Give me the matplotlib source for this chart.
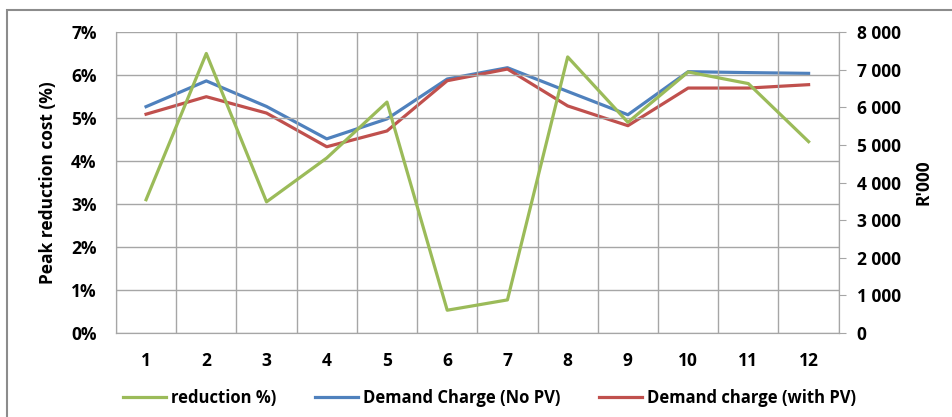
import matplotlib.pyplot as plt
from matplotlib.patches import Rectangle
from matplotlib.ticker import FuncFormatter

months = [1, 2, 3, 4, 5, 6, 7, 8, 9, 10, 11, 12]
reduction_pct = [3.1, 6.5, 3.05, 4.07, 5.37, 0.53, 0.77, 6.42, 4.9, 6.07, 5.8, 4.45]
demand_no_pv = [6015, 6700, 6020, 5160, 5690, 6750, 7050, 6420, 5800, 6945, 6920, 6900]
demand_with_pv = [5815, 6280, 5845, 4950, 5370, 6705, 7015, 6035, 5510, 6510, 6510, 6600]

green = '#9BBB59'
blue = '#4F81BD'
red = '#C0504D'
gridc = '#a6a6a6'

plt.rcParams['font.family'] = ['Open Sans', 'DejaVu Sans']
plt.rcParams['font.weight'] = 'bold'

fig = plt.figure(figsize=(9.52, 4.17), dpi=100)
ax = fig.add_axes([0.1218, 0.2014, 0.7592, 0.7219])
ax2 = ax.twinx()

# outer chart border
fig.patches.append(Rectangle((7 / 952, -0.05), 1.1, 1 - 10 / 417 + 0.05,
                             transform=fig.transFigure, fill=False,
                             edgecolor='#8c8c8c', linewidth=1.5))

l1, = ax.plot(months, reduction_pct, color=green, lw=2.3, label='reduction %)')
l2, = ax2.plot(months, demand_no_pv, color=blue, lw=2.3, label='Demand Charge (No PV)')
l3, = ax2.plot(months, demand_with_pv, color=red, lw=2.3, label='Demand charge (with PV)')
ax.set_zorder(ax2.get_zorder() + 1)
ax.patch.set_visible(False)

ax.set_xlim(0.5, 12.5)
ax.set_ylim(0, 7)
ax2.set_ylim(0, 8000)
ax.set_xticks(months)
ax.set_xticks([m + 0.5 for m in range(13)], minor=True)
ax.set_yticks(range(8))
ax.yaxis.set_major_formatter(FuncFormatter(lambda v, p: f'{int(v)}%'))
ax2.set_yticks(range(0, 8001, 1000))
ax2.yaxis.set_major_formatter(FuncFormatter(lambda v, p: f'{int(v):,}'.replace(',', ' ')))

ax.grid(True, which='minor', axis='x', color=gridc, lw=1)
ax.grid(True, which='major', axis='y', color=gridc, lw=1)
ax.tick_params(axis='x', which='both', length=0, pad=14, labelsize=12.5)
ax.tick_params(axis='y', length=0, pad=14, labelsize=12.5)
ax2.tick_params(axis='y', length=5, color=gridc, pad=8, labelsize=12.5)

for a in (ax, ax2):
    for s in a.spines.values():
        s.set_color(gridc)
    a.spines['top'].set_visible(False)

ax.set_ylabel('Peak reduction cost (%)', fontsize=12.5, fontweight='bold', labelpad=10)
ax2.set_ylabel("R'000", fontsize=12.5, fontweight='bold', labelpad=10)

fig.legend(handles=[l1, l2, l3], loc='center', bbox_to_anchor=(0.514, 0.045),
           ncol=3, frameon=False, fontsize=12, handlelength=2.6,
           handletextpad=0.3, columnspacing=2.3)

fig.savefig('out.png', dpi=100)
